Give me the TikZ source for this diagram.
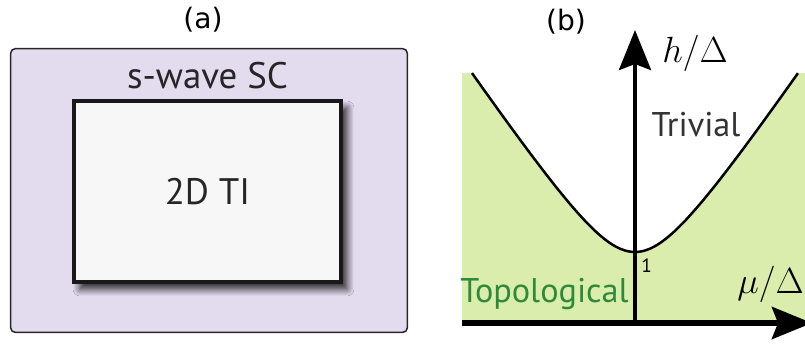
\documentclass[tikz,border=0pt]{standalone}
\usepackage{fontspec}
\setsansfont{PT Sans}
\newfontfamily\panelfont{DejaVu Sans}
\usetikzlibrary{arrows.meta,shadows.blur}
\definecolor{scfill}{RGB}{227,219,238}
\definecolor{tifill}{RGB}{247,247,247}
\definecolor{topofill}{RGB}{218,237,172}
\definecolor{topotext}{RGB}{46,138,58}
\begin{document}
\begin{tikzpicture}[x=0.02cm,y=-0.02cm]
  \tikzset{panel/.style={font=\panelfont\fontsize{16}{16}\selectfont},
    boxtext/.style={font=\sffamily\fontsize{21}{21}\selectfont,text=black!85},
    phase/.style={font=\sffamily\fontsize{19.5}{19.5}\selectfont},
    axis/.style={-{Stealth[length=0.8cm,width=0.64cm,inset=0.12cm]}},
    ratio/.style={font=\huge,inner sep=0pt,anchor=base west}
  }
  \useasboundingbox (0,0) rectangle (805,343);

  \node[panel] (a) at (203,20) {(a)};
  \node[draw=black!85,fill=scfill,line width=0.03cm,rounded corners=0.1cm,
    minimum width=7.94cm,minimum height=5.68cm] (sc) at (209,190.5) {};
  \node[boxtext] (sclabel) at (207.5,76) {s-wave SC};
  \node[boxtext,draw=black!90,fill=tifill,line width=0.08cm,
    minimum width=5.34cm,minimum height=3.62cm,
    blur shadow={shadow xshift=0.12cm,shadow yshift=-0.14cm,shadow blur radius=0.14cm,
      shadow blur steps=10,shadow opacity=85}] (ti) at (207.5,191.5) {2D TI};

  \node[panel] (b) at (566,22) {(b)};
  \fill[topofill] (462,73) rectangle (805,323);
  \fill[white] plot[domain=-3.375:3.375,samples=80] ({635+48.3*\x},{323-71*sqrt(1+\x*\x)}) -- cycle;
  \draw[line width=0.05cm] plot[domain=-3.375:3.375,samples=80] ({635+48.3*\x},{323-71*sqrt(1+\x*\x)});

  \coordinate (O) at (635,323);
  \coordinate (htip) at (635,30);
  \coordinate (mustart) at (462,323);
  \coordinate (mutip) at (812,323);
  \draw[axis,line width=0.085cm] (O) -- (htip);
  \draw[axis,line width=0.11cm] (mustart) -- (mutip);

  \node[ratio] (hlabel) at (662,62) {$h/\Delta$};
  \node[ratio] (mulabel) at (737,293) {$\mu/\Delta$};
  \node[phase,text=black!80] (trivial) at (696,125) {Trivial};
  \node[phase,text=topotext,anchor=base west,inner sep=0pt] (topo) at (460,302) {Topological};
  \node[font=\sffamily\fontsize{11}{11}\selectfont,anchor=base west,inner sep=0pt] (one) at (641,272) {1};
\end{tikzpicture}
\end{document}
